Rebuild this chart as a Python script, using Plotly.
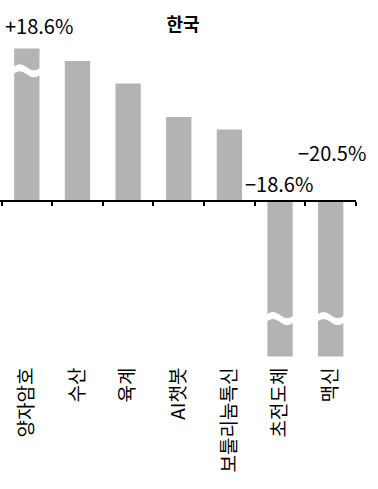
import numpy as np
import plotly.graph_objects as go

categories = ["양자암호", "수산", "육계", "AI챗봇", "보툴리눔톡신", "초전도체", "맥신"]
values = [18.6, 10.0, 8.4, 6.0, 5.1, -18.6, -20.5]          # actual values (%)
shown = [10.9, 10.0, 8.4, 6.0, 5.1, -11.1, -11.1]            # drawn (truncated) heights
break_at = [9.3, None, None, None, None, -8.4, -8.4]         # where the break mark sits
value_labels = ["+18.6%", None, None, None, None, "−18.6%", "−20.5%"]
label_shift = [(12, 23), None, None, None, None, (-1, 18), (1, 49)]

W, H = 378, 489
px_per_unit = 14.0
zero_px = 201
ymax = zero_px / px_per_unit
ymin = -(H - zero_px) / px_per_unit

FONT = "Noto Sans CJK KR"
BAR = "#b3b3b3"

fig = go.Figure()
fig.add_trace(go.Bar(x=categories, y=shown, marker=dict(color=BAR, line=dict(width=0)),
                     hoverinfo="skip"))

# break marks (white wavy band)
half = 0.28
amp = 3 / px_per_unit
thick = 7 / px_per_unit
shapes = []
for i, b in enumerate(break_at):
    if b is None:
        continue
    t = np.linspace(0, 1, 25)
    xs = i - half + 2 * half * t
    top = b + thick / 2 + amp * np.sin(2 * np.pi * t)
    bot = b - thick / 2 + amp * np.sin(2 * np.pi * t)
    pts = [f"{x:.4f},{y:.4f}" for x, y in zip(xs, top)] + \
          [f"{x:.4f},{y:.4f}" for x, y in zip(xs[::-1], bot[::-1])]
    path = "M " + " L ".join(pts) + " Z"
    shapes.append(dict(type="path", xref="x", yref="y", path=path,
                       fillcolor="white", line=dict(width=0), layer="above"))

annotations = []
for i, lab in enumerate(value_labels):
    if lab is None:
        continue
    dx, dy = label_shift[i]
    base = shown[i] if shown[i] > 0 else 0
    annotations.append(dict(x=categories[i], y=base, xref="x", yref="y", text=lab,
                            showarrow=False, xshift=dx, yshift=dy,
                            xanchor="center", yanchor="middle",
                            font=dict(family=FONT, size=20, color="black")))

fig.update_layout(
    width=W, height=H,
    margin=dict(l=0, r=22, t=0, b=0, pad=0, autoexpand=False),
    paper_bgcolor="white", plot_bgcolor="white",
    showlegend=False,
    bargap=0.5,
    title=dict(text="<b>한국</b>", x=183 / W, y=1 - 25 / H, xanchor="center", yanchor="middle",
               automargin=False,
               font=dict(family=FONT, size=18, color="black")),
    shapes=shapes,
    annotations=annotations,
    xaxis=dict(type="category", range=[-0.53, 6.5], anchor="free",
               position=(0 - ymin) / (ymax - ymin), automargin=False,
               showline=True, linecolor="black", linewidth=2,
               ticks="outside", tickson="boundaries", ticklen=4, tickwidth=2, tickcolor="black",
               tickangle=-90, ticklabelstandoff=158,
               tickfont=dict(family=FONT, size=19, color="black"),
               showgrid=False, zeroline=False, fixedrange=True),
    yaxis=dict(range=[ymin, ymax], visible=False, showgrid=False, zeroline=False,
               automargin=False, fixedrange=True),
)

fig.write_html("out.html", config={"displayModeBar": False},
               post_script="document.body.style.margin='0';document.body.style.overflow='hidden';")
